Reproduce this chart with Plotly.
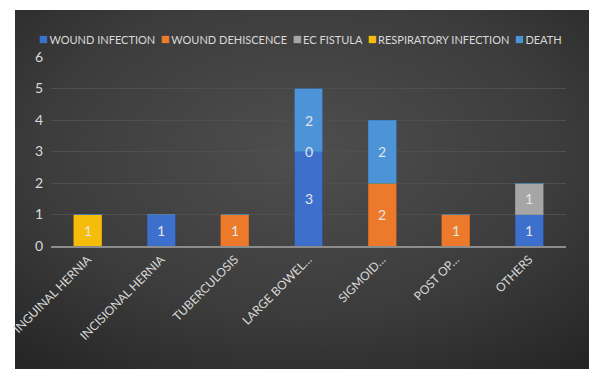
import base64
import plotly.graph_objects as go

# --- data -------------------------------------------------------------
categories = ["INGUINAL HERNIA", "INCISIONAL HERNIA", "TUBERCULOSIS",
              "LARGE BOWEL…", "SIGMOID…", "POST OP…", "OTHERS"]
series_names = ["WOUND INFECTION", "WOUND DEHISCENCE", "EC FISTULA",
                "RESPIRATORY INFECTION", "DEATH"]
wound_infection = [None, 1, None, 3, None, None, 1]
wound_dehiscence = [None, None, 1, None, 2, 1, None]
ec_fistula = [None, None, None, None, None, None, 1]
respiratory_infection = [1, None, None, 0, None, None, None]
death = [None, None, None, 2, 2, None, None]
y_ticks = [0, 1, 2, 3, 4, 5, 6]

series_values = [wound_infection, wound_dehiscence, ec_fistula,
                 respiratory_infection, death]
colors = ["#3d6fcc", "#ed7a2a", "#a6a6a6", "#f5bd0a", "#4c93d8"]
edge = ["#2f5aa8", "#c45f1c", "#8a8a8a", "#c99a05", "#3b7bbb"]

FONT = "Lato, Open Sans, sans-serif"
W, H = 589, 369
L, R, T, B = 51, 23, 57, 123
pw, ph = W - L - R, H - T - B


def fnt(size, color="#d9d9d9"):
    return dict(family=FONT, size=size, color=color)


fig = go.Figure()
for name, vals, c, e in zip(series_names, series_values, colors, edge):
    fig.add_trace(go.Bar(
        x=categories, y=[v if v is not None else 0 for v in vals], name=name,
        marker=dict(color=c, line=dict(color=e, width=0.6)),
        width=0.38, hoverinfo="x+y+name",
    ))

# value labels centred in each stacked segment
annotations = []
for i, cat in enumerate(categories):
    base = 0
    for vals in series_values:
        v = vals[i]
        if v is None:
            continue
        annotations.append(dict(
            x=cat, y=base + v / 2, xref="x", yref="y", text=str(v),
            showarrow=False, font=fnt(14, "#e6e6e6")))
        base += v

# compact single-row key: coloured square followed by the series name
key = "&nbsp;&nbsp;".join(
    f"<span style='color:{c};font-size:15px'>■</span>\u2009{n}"
    for n, c in zip(series_names, colors))
annotations.append(dict(
    x=(37 - L) / pw, y=(H - B - 38) / ph, xref="paper", yref="paper",
    xanchor="left", yanchor="middle", showarrow=False, text=key,
    font=fnt(11)))

# dark panel with a soft radial sheen
svg = """<svg xmlns='http://www.w3.org/2000/svg' width='574' height='359' viewBox='0 0 574 359' preserveAspectRatio='none'>
<defs><radialGradient id='g' cx='0.5' cy='0.4' r='0.75'>
<stop offset='0' stop-color='#4e4e4e'/><stop offset='0.6' stop-color='#3c3c3c'/>
<stop offset='1' stop-color='#262626'/></radialGradient></defs>
<rect width='574' height='359' fill='url(#g)'/></svg>"""
src = "data:image/svg+xml;base64," + base64.b64encode(svg.encode()).decode()
px0, py0 = 15, 10
images = [dict(source=src, xref="paper", yref="paper",
               x=(px0 - L) / pw, y=(H - B - py0) / ph,
               sizex=(W - px0) / pw, sizey=(H - py0) / ph,
               xanchor="left", yanchor="top", sizing="stretch", layer="below")]

fig.update_layout(
    width=W, height=H, margin=dict(l=L, r=R, t=T, b=B),
    paper_bgcolor="white", plot_bgcolor="rgba(0,0,0,0)",
    barmode="stack", bargap=0.62,
    images=images, annotations=annotations,
    font=fnt(12), showlegend=False,
)
fig.update_xaxes(tickangle=-45, showgrid=False, showline=True,
                 linecolor="#8c8c8c", linewidth=1.5, ticks="",
                 automargin=False, tickfont=fnt(12))
fig.update_yaxes(range=[0, 6], tickvals=y_ticks, showgrid=True,
                 gridcolor="#4f4f4f", gridwidth=1, zeroline=False,
                 showline=False, ticks="", automargin=False,
                 ticklabelstandoff=7, tickfont=fnt(14))

fig.write_html("out.html")
